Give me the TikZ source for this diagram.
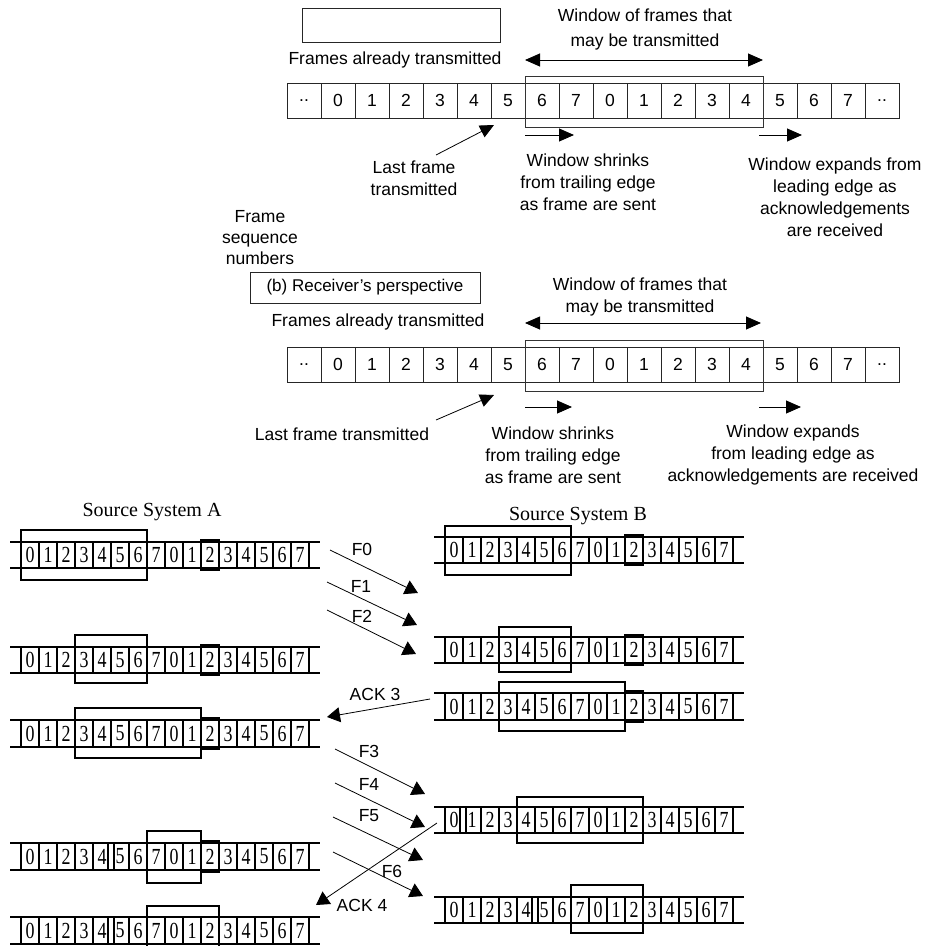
\documentclass[tikz,border=0pt]{standalone}
\usepackage{fontspec}
\setmainfont{Liberation Sans}
\newfontfamily\bitserif[FakeStretch=0.78]{Liberation Serif}
\newfontfamily\headserif{Liberation Serif}
\usetikzlibrary{arrows.meta}

\tikzset{
  every node/.style={inner sep=0pt, outer sep=0pt},
  lbl/.style={font=\fontsize{17.5}{22}\selectfont, align=center},
  cellbox/.style={draw=black!85, line width=0.9pt},
  seqnum/.style={font=\fontsize{17.5}{20}\selectfont},
  legendbox/.style={draw=black!85, line width=1pt},
  wingrey/.style={draw=black!80, line width=1pt},
  spanarrow/.style={{Triangle[length=15pt,width=13pt]}-{Triangle[length=15pt,width=13pt]}, line width=0.9pt},
  movearrow/.style={-{Triangle[length=15pt,width=13pt]}, line width=0.9pt},
  pointer/.style={-{Triangle[length=14pt,width=13pt]}, line width=0.8pt},
  msg/.style={-{Triangle[length=13pt,width=15pt]}, line width=0.8pt},
  msglbl/.style={font=\fontsize{17.5}{20}\selectfont},
  sysname/.style={font=\headserif\fontsize{20}{20}\selectfont},
  cellnum/.style={font=\bitserif\fontsize{23}{23}\selectfont},
  rail/.style={line width=2pt},
  divider/.style={line width=2.6pt},
  winbox/.style={draw, line width=1.3pt},
  marker/.style={draw, line width=2pt},
}

% one row of sixteen sequence numbers: name, left x, top y, bottom y
\newcommand\filmstrip[4]{%
  \draw[rail] ({#2-11},#3) -- ({#2+299},#3);
  \draw[rail] ({#2-11},#4) -- ({#2+299},#4);
  \foreach \k in {0,...,16}
    \draw[divider] ({#2+18*\k},#3) -- ({#2+18*\k},#4);
  \foreach \d [count=\k from 0] in {0,1,2,3,4,5,6,7,0,1,2,3,4,5,6,7}
    \node[cellnum] (#1-\k) at ({#2+18*\k+9},{(#3+#4)/2}) {\d};
}
% window around cells: left x, first cell, last cell, top y, bottom y
\newcommand\slidewin[5]{%
  \draw[winbox] ({#1+18*#2},#4) rectangle ({#1+18*(#3+1)},#5);
}
% highlighted cell ten: left x, top y, bottom y
\newcommand\cellmark[3]{%
  \draw[marker] ({#1+180},{#2-2}) rectangle ({#1+198},{#3+2});
}
% split divider: left x, boundary index, top y, bottom y
\newcommand\splitdiv[4]{%
  \fill[white] ({#1+18*#2-2.5},{#3+1}) rectangle ({#1+18*#2+2.5},{#4-1});
  \draw[line width=1.6pt] ({#1+18*#2-3},#3) -- ({#1+18*#2-3},#4);
  \draw[line width=1.6pt] ({#1+18*#2+3},#3) -- ({#1+18*#2+3},#4);
}
% eighteen-cell sequence bar: name, top y, bottom y
\newcommand\seqbar[3]{%
  \foreach \d [count=\k from 0] in {{..},0,1,2,3,4,5,6,7,0,1,2,3,4,5,6,7,{..}} {
    \draw[cellbox] ({287+34*\k},#2) rectangle ({287+34*(\k+1)},#3);
    \node[seqnum] (#1-\k) at ({287+34*\k+17},{(#2+#3)/2}) {\d};
  }
}

\begin{document}
\begin{tikzpicture}[x=1pt,y=-1pt]
\useasboundingbox (0,0) rectangle (925,946);
\clip (0,0) rectangle (925,946);

% ---------------- sender's view ----------------
\node[legendbox, minimum width=198pt, minimum height=34pt] (legend1) at (401,25) {};
\node[lbl, font=\fontsize{17.5}{25}\selectfont] (wintext1) at (645,29) {Window of frames that\\may be transmitted};
\node[lbl] (sent1) at (395,60) {Frames already transmitted};
\coordinate (span1l) at (525,60);
\coordinate (span1r) at (763,60);
\draw[spanarrow] (span1l) -- (span1r);
\seqbar{top}{83}{118}
\draw[wingrey] (525,76) rectangle (763,127);
\coordinate (shr1a) at (525,135); \coordinate (shr1b) at (574,135);
\coordinate (exp1a) at (759,135); \coordinate (exp1b) at (802,135);
\draw[movearrow] (shr1a) -- (shr1b);
\draw[movearrow] (exp1a) -- (exp1b);
\coordinate (last1a) at (436,155); \coordinate (last1b) at (494,125);
\draw[pointer] (last1a) -- (last1b);
\node[lbl] (lastlbl1) at (414,178) {Last frame\\transmitted};
\node[lbl] (shrlbl1) at (588,182) {Window shrinks\\from trailing edge\\as frame are sent};
\node[lbl] (explbl1) at (835,197) {Window expands from\\leading edge as\\acknowledgements\\are received};

% ---------------- receiver's view ----------------
\node[lbl, font=\fontsize{17.5}{21}\selectfont] (seqlbl) at (260,238) {Frame\\sequence\\numbers};
\node[legendbox, minimum width=230pt, minimum height=31pt, font=\fontsize{17}{19}\selectfont] (legend2) at (365,287.5) {(b) Receiver's perspective};
\node[lbl] (wintext2) at (640,297) {Window of frames that\\may be transmitted};
\node[lbl] (sent2) at (378,322) {Frames already transmitted};
\coordinate (span2l) at (525,323);
\coordinate (span2r) at (761,323);
\draw[spanarrow] (span2l) -- (span2r);
\seqbar{bot}{347}{382}
\draw[wingrey] (525,340) rectangle (763,391);
\coordinate (shr2a) at (525,407); \coordinate (shr2b) at (572,407);
\coordinate (exp2a) at (759,407); \coordinate (exp2b) at (801,407);
\draw[movearrow] (shr2a) -- (shr2b);
\draw[movearrow] (exp2a) -- (exp2b);
\coordinate (last2a) at (436,420); \coordinate (last2b) at (494,395);
\draw[pointer] (last2a) -- (last2b);
\node[lbl] (lastlbl2) at (342,434) {Last frame transmitted};
\node[lbl] (shrlbl2) at (553,455) {Window shrinks\\from trailing edge\\as frame are sent};
\node[lbl] (explbl2) at (793,455) {Window expands\\from leading edge as\\acknowledgements are received};

% ---------------- exchange between A and B ----------------
\node[sysname] (sysA) at (152,512) {Source System A};
\node[sysname] (sysB) at (578,516) {Source System B};

% station A
\filmstrip{a1}{21}{542}{568}
\slidewin{21}{0}{6}{530}{580}
\cellmark{21}{542}{568}
\filmstrip{a2}{21}{647}{673}
\slidewin{21}{3}{6}{635}{683}
\cellmark{21}{647}{673}
\filmstrip{a3}{21}{720}{747}
\slidewin{21}{3}{9}{708}{758}
\cellmark{21}{720}{747}
\filmstrip{a4}{21}{843}{870}
\splitdiv{21}{5}{843}{870}
\slidewin{21}{7}{9}{831}{883}
\cellmark{21}{843}{870}
\filmstrip{a5}{21}{917}{944}
\splitdiv{21}{5}{917}{944}
\slidewin{21}{7}{10}{906}{956}

% station B
\filmstrip{b1}{445}{537}{563}
\slidewin{445}{0}{6}{526}{575}
\cellmark{445}{537}{563}
\filmstrip{b2}{445}{637}{663}
\slidewin{445}{3}{6}{627}{672}
\cellmark{445}{637}{663}
\filmstrip{b3}{445}{693}{720}
\slidewin{445}{3}{9}{682}{731}
\cellmark{445}{693}{720}
\filmstrip{b4}{445}{807}{833}
\splitdiv{445}{1}{807}{833}
\slidewin{445}{4}{10}{797}{843}
\filmstrip{b5}{445}{897}{923}
\splitdiv{445}{5}{897}{923}
\slidewin{445}{7}{10}{885}{933}

% frames and acknowledgements
\coordinate (f0s) at (330,550); \coordinate (f0e) at (418,593);
\coordinate (f1s) at (327,582); \coordinate (f1e) at (417,625);
\coordinate (f2s) at (327,610); \coordinate (f2e) at (416,654);
\coordinate (f3s) at (335,749); \coordinate (f3e) at (425,794);
\coordinate (f4s) at (335,783); \coordinate (f4e) at (425,827);
\coordinate (f5s) at (333,817); \coordinate (f5e) at (423,860);
\coordinate (f6s) at (333,852); \coordinate (f6e) at (423,896);
\coordinate (k3s) at (430,699); \coordinate (k3e) at (327,717);
\coordinate (k4s) at (437,823); \coordinate (k4e) at (316,905);
\foreach \m in {f0,f1,f2,f3,f4,f5,f6,k3,k4}
  \draw[msg] (\m s) -- (\m e);

\node[msglbl] (lf0) at (362,549) {F0};
\node[msglbl] (lf1) at (361,586) {F1};
\node[msglbl] (lf2) at (362,616) {F2};
\node[msglbl] (lf3) at (369,751) {F3};
\node[msglbl] (lf4) at (369,784) {F4};
\node[msglbl] (lf5) at (369,816) {F5};
\node[msglbl] (lf6) at (392,871) {F6};
\node[msglbl] (lk3) at (375,694) {ACK 3};
\node[msglbl] (lk4) at (362,905) {ACK 4};
\end{tikzpicture}
\end{document}
